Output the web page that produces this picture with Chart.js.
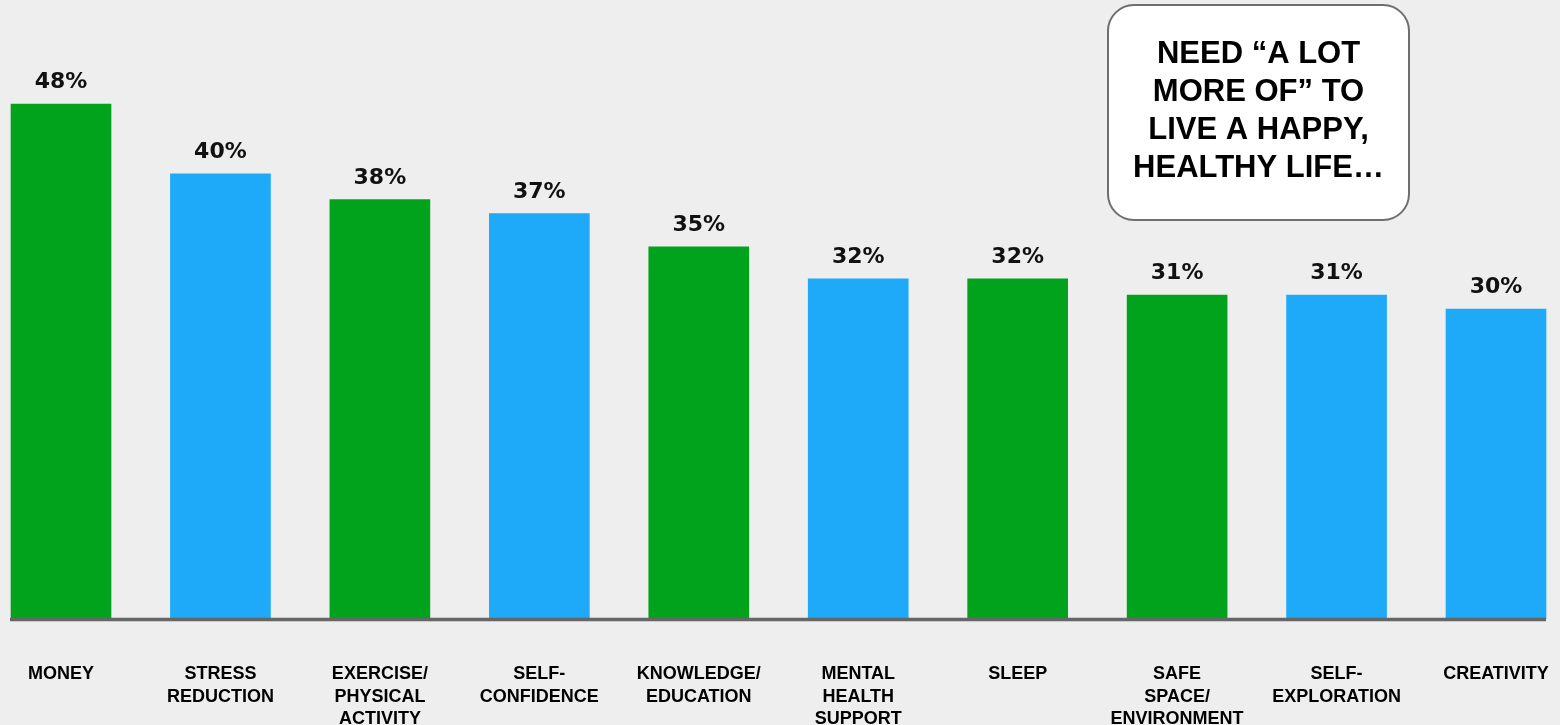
<!DOCTYPE html>
<html>
<head>
<meta charset="utf-8">
<script src="https://cdn.jsdelivr.net/npm/chart.js@4.4.1/dist/chart.umd.min.js"></script>
<style>
  html, body { margin: 0; padding: 0; background: #eeeeee; }
  #wrap { width: 1560px; height: 725px; position: relative; }
</style>
</head>
<body>
<div id="wrap"><canvas id="c"></canvas></div>
<script>
// ---- data ----
const categories = [
  ['MONEY'],
  ['STRESS', 'REDUCTION'],
  ['EXERCISE/', 'PHYSICAL', 'ACTIVITY'],
  ['SELF-', 'CONFIDENCE'],
  ['KNOWLEDGE/', 'EDUCATION'],
  ['MENTAL', 'HEALTH', 'SUPPORT'],
  ['SLEEP'],
  ['SAFE', 'SPACE/', 'ENVIRONMENT'],
  ['SELF-', 'EXPLORATION'],
  ['CREATIVITY']
];
// bar heights (percent)
const values = [48.0, 41.5, 39.1, 37.8, 34.7, 31.7, 31.7, 30.2, 30.2, 28.9];
// labels printed above the bars
const valueLabels = ['48%', '40%', '38%', '37%', '35%', '32%', '32%', '31%', '31%', '30%'];
const seriesGroup = ['green', 'blue', 'green', 'blue', 'green', 'blue', 'green', 'green', 'blue', 'blue'];
const calloutLines = ['NEED \u201CA LOT', 'MORE OF\u201D TO', 'LIVE A HAPPY,', 'HEALTHY LIFE\u2026'];

const palette = { green: '#00a31b', blue: '#1eaaf9' };

const bgPlugin = {
  id: 'bg',
  beforeDraw(chart) {
    const ctx = chart.ctx;
    ctx.save();
    ctx.fillStyle = '#eeeeee';
    ctx.fillRect(0, 0, chart.width, chart.height);
    ctx.restore();
  }
};

const decoPlugin = {
  id: 'deco',
  afterDatasetsDraw(chart) {
    const ctx = chart.ctx;
    const meta = chart.getDatasetMeta(0);
    const bars = meta.data;
    ctx.save();
    // baseline
    const first = bars[0], last = bars[bars.length - 1];
    const yBase = chart.scales.y.getPixelForValue(0);
    ctx.strokeStyle = '#666666';
    ctx.lineWidth = 3.5;
    ctx.beginPath();
    ctx.moveTo(first.x - first.width / 2 - 1, yBase + 0.5);
    ctx.lineTo(last.x + last.width / 2, yBase + 0.5);
    ctx.stroke();
    // value labels
    ctx.fillStyle = '#111111';
    ctx.font = 'bold 22px "DejaVu Sans"';
    ctx.textAlign = 'center';
    ctx.textBaseline = 'alphabetic';
    bars.forEach((b, i) => {
      ctx.fillText(valueLabels[i], b.x, b.y - 16);
    });
    // callout box
    const bx = 1108, by = 5, bw = 301, bh = 215, r = 26;
    ctx.beginPath();
    ctx.roundRect(bx, by, bw, bh, r);
    ctx.fillStyle = '#ffffff';
    ctx.fill();
    ctx.lineWidth = 2;
    ctx.strokeStyle = '#6e6e6e';
    ctx.stroke();
    ctx.fillStyle = '#000000';
    ctx.font = 'bold 31px "Liberation Sans"';
    ctx.textAlign = 'center';
    ctx.textBaseline = 'alphabetic';
    calloutLines.forEach((t, i) => {
      ctx.fillText(t, bx + bw / 2, 63 + i * 38);
    });
    ctx.restore();
  }
};

new Chart(document.getElementById('c'), {
  type: 'bar',
  data: {
    labels: categories,
    datasets: [{
      data: values,
      backgroundColor: seriesGroup.map(g => palette[g]),
      borderWidth: 0,
      barThickness: 100,
      clip: false
    }]
  },
  options: {
    responsive: true,
    maintainAspectRatio: false,
    animation: false,
    layout: { padding: { left: 61, right: 64, top: 29, bottom: 0 } },
    plugins: { legend: { display: false }, tooltip: { enabled: false } },
    scales: {
      x: {
        type: 'category',
        offset: false,
        grid: { display: false },
        border: { display: false },
        ticks: {
          autoSkip: false,
          maxRotation: 0,
          minRotation: 0,
          padding: 36,
          color: '#000000',
          font: { family: '"Liberation Sans"', size: 18, weight: 'bold', lineHeight: 1.25 }
        },
        afterFit(scale) {
          scale.paddingLeft = 0;
          scale.paddingRight = 0;
          scale.height = 106;
        }
      },
      y: {
        display: false,
        min: 0,
        max: 55
      }
    }
  },
  plugins: [bgPlugin, decoPlugin]
});
</script>
</body>
</html>
